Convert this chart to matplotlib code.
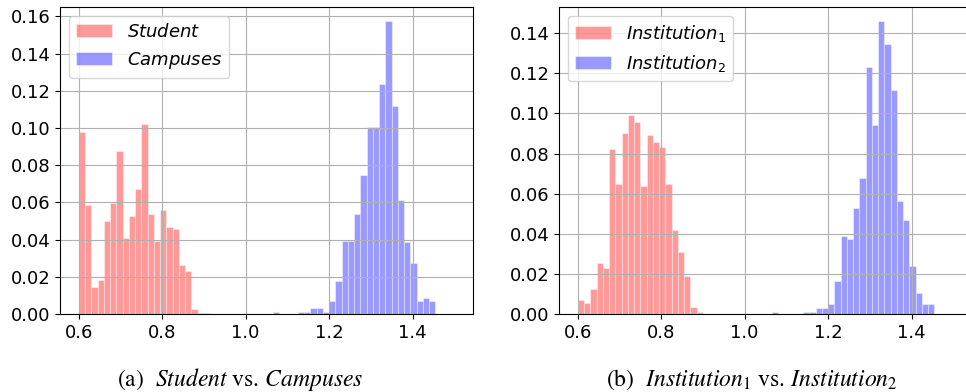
import matplotlib
matplotlib.use('Agg')
import matplotlib.pyplot as plt
import numpy as np

# histogram bins shared by all series
bin_lo = 0.6
bin_hi = 1.5
n_bins = 60

# (a) Student vs. Campuses  (fraction per bin)
student_first_bin = 0
student = [0.0978, 0.0586, 0.0144, 0.0185, 0.0501, 0.0595, 0.0879, 0.0408,
           0.0528, 0.0674, 0.1024, 0.0539, 0.0390, 0.0562, 0.0467, 0.0456,
           0.0261, 0.0232, 0.0029, 0.0007, 0.0005]
campuses_first_bin = 31
campuses = [0.0011, 0.0, 0.0, 0.0, 0.0011, 0.0011, 0.0031, 0.0031, 0.0011,
            0.0068, 0.0180, 0.0390, 0.0390, 0.0539, 0.0746, 0.1008, 0.1008,
            0.1235, 0.1574, 0.1121, 0.0615, 0.0388, 0.0273, 0.0068, 0.0086,
            0.0068]

# (b) Institution1 vs. Institution2
inst1_first_bin = 0
inst1 = [0.0070, 0.0057, 0.0127, 0.0255, 0.0228, 0.0824, 0.0646, 0.0903,
         0.0991, 0.0955, 0.0636, 0.0890, 0.0858, 0.0831, 0.0650, 0.0420,
         0.0309, 0.0188, 0.0034, 0.0011]
inst2_first_bin = 31
inst2 = [0.0010, 0.0, 0.0, 0.0, 0.0, 0.0010, 0.0010, 0.0032, 0.0032, 0.0050,
         0.0165, 0.0391, 0.0373, 0.0526, 0.0678, 0.1230, 0.0944, 0.1459,
         0.1345, 0.1117, 0.0564, 0.0470, 0.0240, 0.0105, 0.0050, 0.0050]


def full_counts(values, first_bin):
    counts = np.zeros(n_bins)
    counts[first_bin:first_bin + len(values)] = values
    return counts


def draw_hist(ax, series_a, series_b, label_a, label_b, yticks):
    edges = np.linspace(bin_lo, bin_hi, n_bins + 1)
    centers = (edges[:-1] + edges[1:]) / 2
    ax.hist(centers, bins=edges, weights=full_counts(*series_a), color='red',
            alpha=0.4, edgecolor='white', linewidth=0.8, label=label_a)
    ax.hist(centers, bins=edges, weights=full_counts(*series_b), color='blue',
            alpha=0.4, edgecolor='white', linewidth=0.8, label=label_b)
    ax.set_xticks([0.6, 0.8, 1.0, 1.2, 1.4])
    ax.set_yticks(yticks)
    ax.tick_params(labelsize=13)
    ax.grid(True)
    ax.legend(loc='upper left', fontsize=13)


fig = plt.figure(figsize=(9.66, 3.92), dpi=100)
ax1 = fig.add_axes([60 / 966, 78 / 392, 413 / 966, 307.3 / 392])
ax2 = fig.add_axes([559 / 966, 78 / 392, 413 / 966, 307.3 / 392])

draw_hist(ax1, (student, student_first_bin), (campuses, campuses_first_bin),
          r'$\mathit{Student}$', r'$\mathit{Campuses}$',
          np.arange(0, 0.161, 0.02))
draw_hist(ax2, (inst1, inst1_first_bin), (inst2, inst2_first_bin),
          r'$\mathit{Institution}_1$', r'$\mathit{Institution}_2$',
          np.arange(0, 0.141, 0.02))

caption_y = 6 / 392
fig.text(240 / 966, caption_y, r'(a)  $\mathit{Student}$ vs. $\mathit{Campuses}$',
         ha='center', va='baseline', fontsize=17, family='STIXGeneral',
         math_fontfamily='stix')
fig.text(752 / 966, caption_y,
         r'(b)  $\mathit{Institution}_1$ vs. $\mathit{Institution}_2$',
         ha='center', va='baseline', fontsize=17, family='STIXGeneral',
         math_fontfamily='stix')

fig.savefig('out.png', dpi=100)
